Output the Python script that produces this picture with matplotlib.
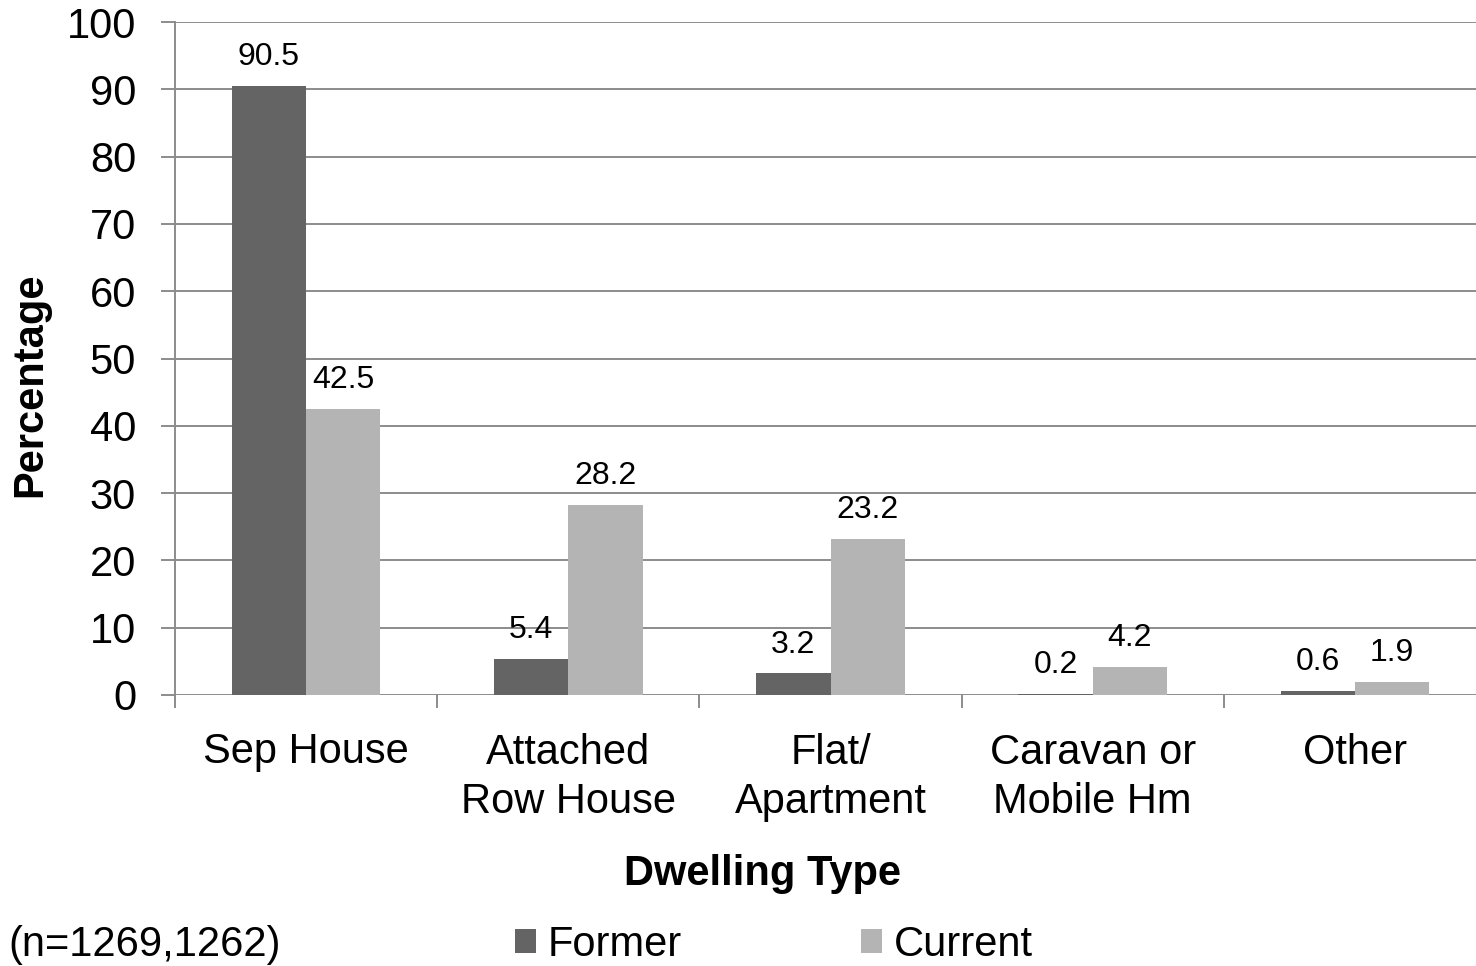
import numpy as np
import matplotlib.pyplot as plt

plt.rcParams['font.family'] = ['Liberation Sans', 'DejaVu Sans']

categories = ['Sep House', 'Attached\nRow House', 'Flat/\nApartment', 'Caravan or\nMobile Hm', 'Other']
former = [90.5, 5.4, 3.2, 0.2, 0.6]
current = [42.5, 28.2, 23.2, 4.2, 1.9]
series = ['Former', 'Current']
yticks = [0, 10, 20, 30, 40, 50, 60, 70, 80, 90, 100]

dark = '#646464'
light = '#b4b4b4'
grid = '#8c8c8c'
fs = 30

fig = plt.figure(figsize=(14.76, 9.66), dpi=100)
ax = fig.add_axes([175 / 1476, 1 - 695 / 966, 1311 / 1476, 673 / 966])

x = np.arange(len(categories))
w = 0.283
b1 = ax.bar(x - w / 2, former, w, color=dark, label=series[0], zorder=3)
b2 = ax.bar(x + w / 2, current, w, color=light, label=series[1], zorder=3)

# value labels above every bar
for bars, vals in ((b1, former), (b2, current)):
    for rect, v in zip(bars, vals):
        ax.annotate(f'{v}', (rect.get_x() + rect.get_width() / 2, v),
                    xytext=(0, 15), textcoords='offset points',
                    ha='center', va='baseline', fontsize=23)

ax.set_xlim(-0.5, len(categories) - 0.5)
ax.set_ylim(0, 100)
ax.set_yticks(yticks)
ax.tick_params(axis='y', labelsize=fs, length=10, width=1.4, color=grid, pad=18)
ax.yaxis.grid(True, color=grid, linewidth=1.4, zorder=0)

ax.set_xticks(x)
ax.set_xticklabels(categories, fontsize=fs, linespacing=1.3)
ax.set_xticks(np.arange(len(categories) + 1) - 0.5, minor=True)
ax.tick_params(axis='x', which='major', length=0, pad=27)
ax.tick_params(axis='x', which='minor', length=9, width=1.4, color=grid)

for s in ['top', 'right', 'bottom']:
    ax.spines[s].set_visible(False)
ax.spines['left'].set_color(grid)
ax.spines['left'].set_linewidth(1.4)

fig.text(30 / 1476, 1 - 385 / 966, 'Percentage', rotation=90, fontsize=fs,
         fontweight='bold', ha='center', va='center')
fig.text(763 / 1476, 1 - 874 / 966, 'Dwelling Type', fontsize=fs,
         fontweight='bold', ha='center', va='center')
fig.text(8 / 1476, 1 - 945 / 966, '(n=1269,1262)', fontsize=fs,
         ha='left', va='center')

fig.legend(handles=[b1, b2], loc='center left',
           bbox_to_anchor=(515 / 1476, 1 - 945 / 966), ncol=2, frameon=False,
           fontsize=fs, handlelength=0.5, handleheight=0.5,
           handletextpad=0.29, columnspacing=4.3, borderpad=0, borderaxespad=0)

fig.savefig('out.png', dpi=100)
